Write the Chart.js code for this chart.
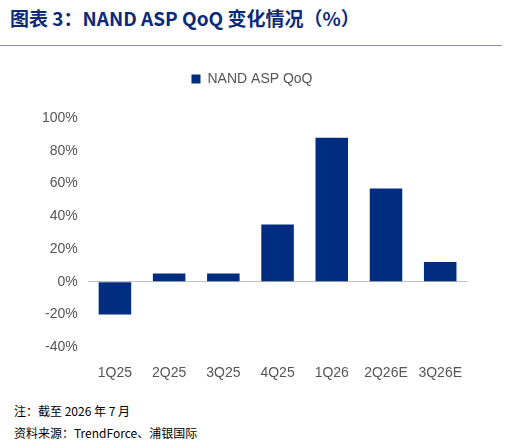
<!DOCTYPE html>
<html><head><meta charset="utf-8">
<script src="https://cdn.jsdelivr.net/npm/chart.js@4"></script>
<style>
body{margin:0;width:508px;height:445px;background:#fff;font-family:"Noto Sans CJK SC","Liberation Sans",sans-serif;position:relative;overflow:hidden}
#title{position:absolute;left:10px;top:4px;font-size:19px;font-weight:bold;color:#0b2a7a}
#rule{position:absolute;left:0;top:45px;width:502px;border-top:1px solid #8a8fb8}
#box{position:absolute;left:32px;top:62px;width:440px;height:330px}
.note{position:absolute;left:14px;font-size:12px;color:#000}
</style></head><body>
<div id="title">图表 3：NAND ASP QoQ 变化情况（%）</div>
<div id="rule"></div>
<div id="box"><canvas id="chart"></canvas></div>
<div class="note" style="top:402px">注：截至 2026 年 7 月</div>
<div class="note" style="top:424px">资料来源：TrendForce、浦银国际</div>
<script>
var categories = ["1Q25","2Q25","3Q25","4Q25","1Q26","2Q26E","3Q26E"];
var aspQoq = [-20, 5, 5, 35, 88, 57, 12];

const legendGap = {
  id: "legendGap",
  beforeInit(chart) {
    const fit = chart.legend.fit;
    chart.legend.fit = function() { fit.bind(chart.legend)(); this.height += 22; };
  }
};

const ctx = document.getElementById("chart").getContext("2d");
new Chart(ctx, {
  type: "bar",
  data: {
    labels: categories,
    datasets: [{
      label: "NAND ASP QoQ",
      data: aspQoq,
      backgroundColor: "#002d80",
      categoryPercentage: 0.6,
      barPercentage: 1.0
    }]
  },
  options: {
    responsive: true,
    maintainAspectRatio: false,
    animation: false,
    plugins: {
      legend: {
        labels: { boxWidth: 9, boxHeight: 9, color: "#555", font: { family: "Liberation Sans", size: 14 } }
      },
      tooltip: { enabled: false }
    },
    scales: {
      x: {
        grid: { display: false },
        border: { display: false },
        ticks: { padding: 10, color: "#555", font: { family: "Liberation Sans", size: 14 } }
      },
      y: {
        min: -40, max: 100,
        border: { display: false },
        grid: {
          drawTicks: false,
          color: function(c) { return c.tick.value === 0 ? "#bfbfbf" : "transparent"; }
        },
        ticks: {
          stepSize: 20, padding: 10, color: "#555",
          font: { family: "Liberation Sans", size: 14 },
          callback: function(v) { return v + "%"; }
        }
      }
    }
  },
  plugins: [legendGap]
});
</script>
</body></html>
